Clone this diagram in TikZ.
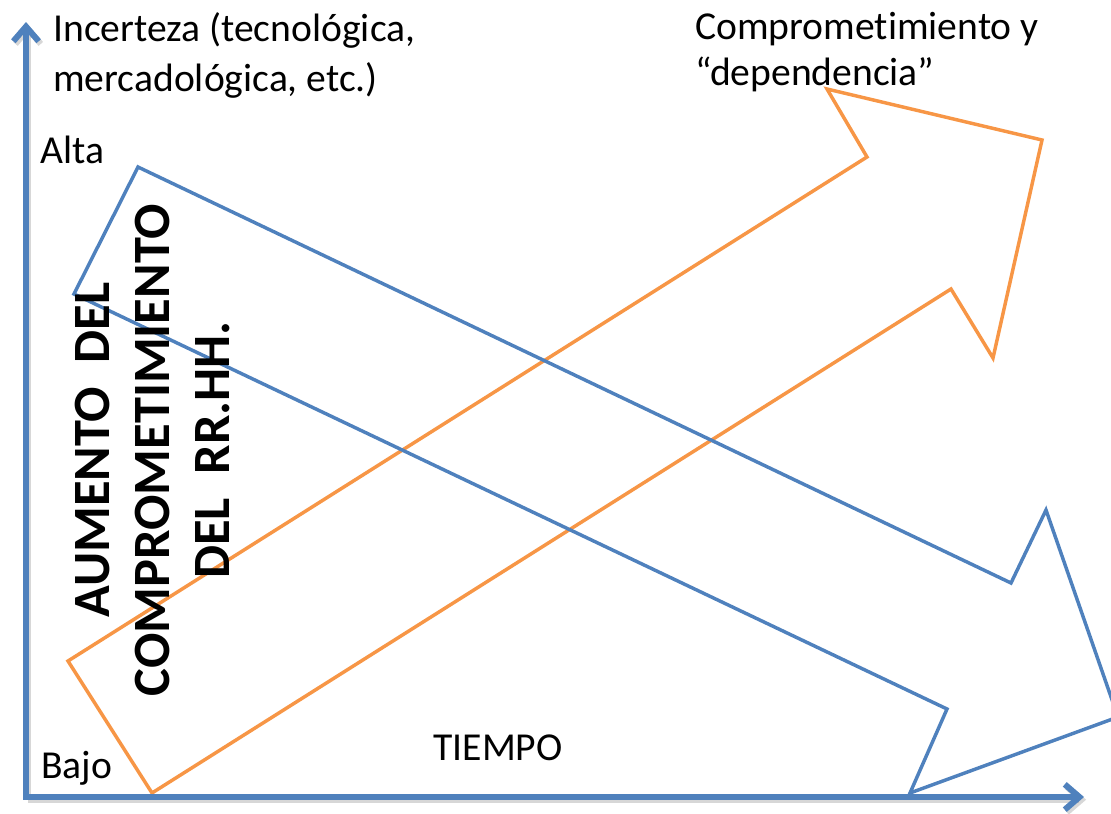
\documentclass[tikz,border=0pt]{standalone}
\usepackage{fontspec}
\setmainfont{Carlito}[Ligatures=NoCommon]
\usetikzlibrary{arrows.meta}
\definecolor{axisblue}{HTML}{4F81BD}
\definecolor{shapeblue}{HTML}{4F81BD}
\definecolor{shapeorange}{HTML}{F79646}
\tikzset{
  axisline/.style={line width=4.5pt, draw=axisblue, line cap=rect,
    -{Straight Barb[length=11pt,width=19pt,line cap=butt]},
    preaction={draw=black!45, opacity=0.35, line width=4.5pt,
      transform canvas={shift={(1.6pt,-2pt)}}}},
  bigarrow/.style={line width=2.6pt, line join=miter},
  label/.style={inner sep=0pt, font=\fontsize{29.7}{37.5}\selectfont},
  heading/.style={inner sep=0pt, align=center,
    font=\bfseries\fontsize{39.3}{45}\selectfont}
}
\begin{document}
\begin{tikzpicture}[x=0.75pt, y=-0.75pt]
  \useasboundingbox (0,0) rectangle (1111,814);

  % rising commitment arrow (orange)
  \draw[bigarrow, shapeorange]
    (68,661) -- (867,157) -- (827,89) -- (1042,140) -- (993,358)
    -- (951,289) -- (152,793) -- cycle;

  % falling uncertainty arrow (blue)
  \draw[bigarrow, shapeblue]
    (138,167) -- (1011,583) -- (1046,510) -- (1118,717) -- (910,793)
    -- (947,709) -- (74,294) -- cycle;

  % axes
  \coordinate (origin) at (26,797);
  \coordinate (ytip) at (26,22);
  \coordinate (xtip) at (1084,797);
  \draw[axisline] (origin) -- (ytip);
  \draw[axisline] (origin) -- (xtip);

  % axis labels
  \node[label, anchor=north west, align=left] (yaxis) at (53,12)
    {Incerteza (tecnológica,\\mercadológica, etc.)};
  \node[label, anchor=base west] (alta) at (40,163) {Alta};
  \node[label, anchor=base west] (bajo) at (41,778) {Bajo};
  \node[label, anchor=base] (tiempo) at (498,760) {TIEMPO};
  \node[label, anchor=north west, align=left,
        font=\fontsize{29.7}{34.5}\selectfont] (commit) at (695,12)
    {Comprometimiento y\\“dependencia”};

  % vertical heading
  \node[heading, rotate=90] (aumento) at (152,450)
    {AUMENTO\ \ DEL\\COMPROMETIMIENTO\\DEL\ \ RR.HH.};
\end{tikzpicture}
\end{document}
